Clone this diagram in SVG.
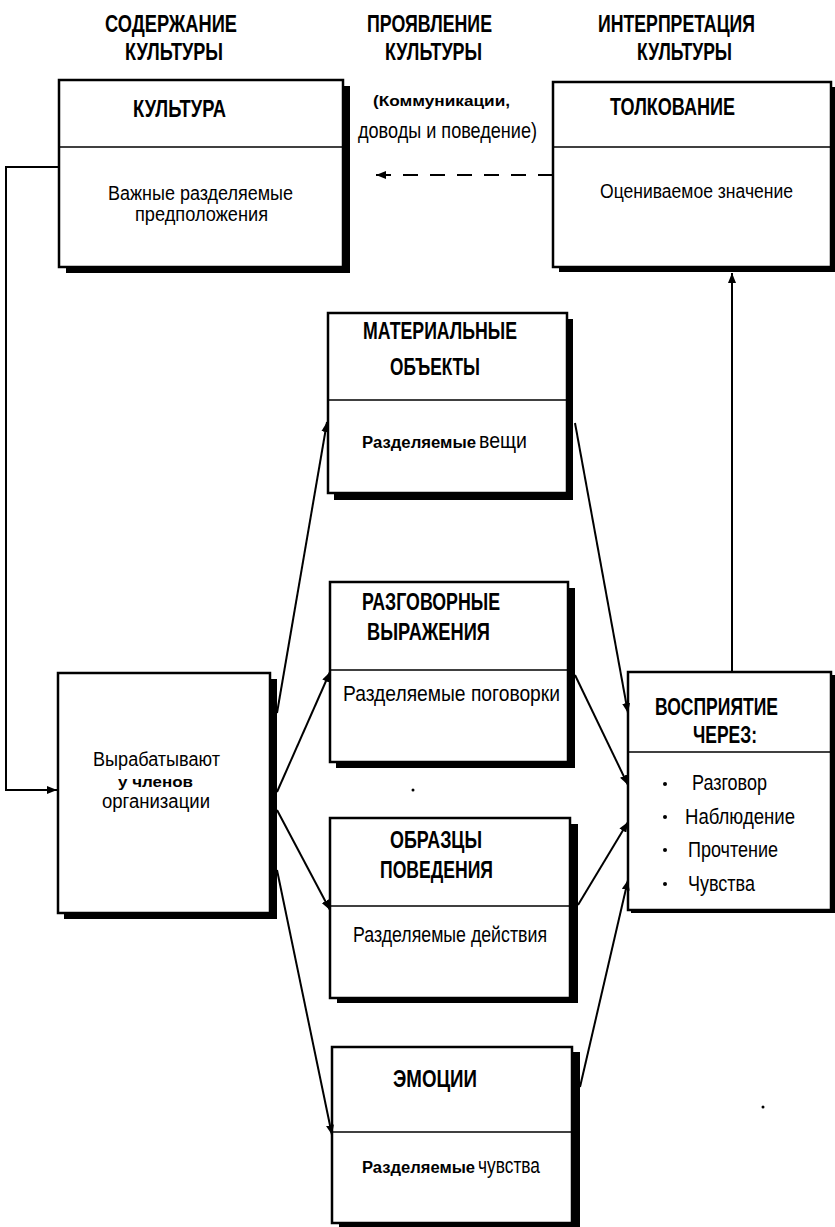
<svg xmlns="http://www.w3.org/2000/svg" width="835" height="1227" viewBox="0 0 835 1227">
<defs>
<style>
text{font-family:"Liberation Sans Narrow","Liberation Sans",Arial,sans-serif;fill:#000}
.h{font-size:23px;font-weight:bold}
.t{font-size:22px}
.s{font-size:20px}
.b{font-size:16px;font-weight:bold;font-family:"Liberation Sans",Arial,sans-serif}
.box{fill:#fff;stroke:#000;stroke-width:2.5}
.sh{fill:#000}
.div{stroke:#000;stroke-width:1.6}
.con{fill:none;stroke:#000;stroke-width:2}
.dash{fill:none;stroke:#000;stroke-width:2;stroke-dasharray:15 12}
</style>
<marker id="ah" viewBox="0 0 10 8" refX="10" refY="4" markerWidth="10" markerHeight="8" markerUnits="userSpaceOnUse" orient="auto">
<path d="M0,0 L10,4 L0,8 z" fill="#000"/>
</marker>
</defs>
<rect width="835" height="1227" fill="#fff"/>

<g id="headers">
<text class="h" x="105" y="32" textLength="132" lengthAdjust="spacingAndGlyphs">СОДЕРЖАНИЕ</text>
<text class="h" x="125" y="60" textLength="98" lengthAdjust="spacingAndGlyphs">КУЛЬТУРЫ</text>
<text class="h" x="367" y="32" textLength="125" lengthAdjust="spacingAndGlyphs">ПРОЯВЛЕНИЕ</text>
<text class="h" x="385" y="60" textLength="97" lengthAdjust="spacingAndGlyphs">КУЛЬТУРЫ</text>
<text class="h" x="598" y="32" textLength="157" lengthAdjust="spacingAndGlyphs">ИНТЕРПРЕТАЦИЯ</text>
<text class="h" x="637" y="60" textLength="95" lengthAdjust="spacingAndGlyphs">КУЛЬТУРЫ</text>
<text class="b" x="373" y="106" textLength="137" lengthAdjust="spacingAndGlyphs" style="font-size:14px">(Коммуникации,</text>
<text class="t" x="358" y="138" textLength="179" lengthAdjust="spacingAndGlyphs">доводы и поведение)</text>
</g>

<g id="culture">
<rect class="sh" x="66" y="86" width="284" height="187"/>
<rect class="box" x="59" y="80" width="284" height="187"/>
<line class="div" x1="59" y1="147" x2="343" y2="147"/>
<text class="h" x="133" y="117" textLength="93" lengthAdjust="spacingAndGlyphs">КУЛЬТУРА</text>
<text class="s" x="108" y="200" textLength="185" lengthAdjust="spacingAndGlyphs">Важные разделяемые</text>
<text class="s" x="135" y="221" textLength="133" lengthAdjust="spacingAndGlyphs">предположения</text>
</g>

<g id="interpretation">
<rect class="sh" x="559" y="87" width="276" height="185"/>
<rect class="box" x="553" y="82" width="278" height="185"/>
<line class="div" x1="553" y1="147" x2="831" y2="147"/>
<text class="h" x="610" y="115" textLength="125" lengthAdjust="spacingAndGlyphs">ТОЛКОВАНИЕ</text>
<text class="s" x="600" y="198" textLength="193" lengthAdjust="spacingAndGlyphs">Оцениваемое значение</text>
</g>

<g id="material">
<rect class="sh" x="334" y="319" width="239" height="181"/>
<rect class="box" x="328" y="313" width="239" height="180"/>
<line class="div" x1="328" y1="400" x2="567" y2="400"/>
<text class="h" x="363" y="339" textLength="154" lengthAdjust="spacingAndGlyphs">МАТЕРИАЛЬНЫЕ</text>
<text class="h" x="390" y="375" textLength="90" lengthAdjust="spacingAndGlyphs">ОБЪЕКТЫ</text>
<text class="b" x="362" y="448" textLength="114" lengthAdjust="spacingAndGlyphs">Разделяемые</text>
<text class="t" x="479" y="448" textLength="48" lengthAdjust="spacingAndGlyphs">вещи</text>
</g>

<g id="speech">
<rect class="sh" x="336" y="588" width="239" height="180"/>
<rect class="box" x="330" y="582" width="238" height="180"/>
<line class="div" x1="330" y1="670" x2="568" y2="670"/>
<text class="h" x="362" y="610" textLength="138" lengthAdjust="spacingAndGlyphs">РАЗГОВОРНЫЕ</text>
<text class="h" x="367" y="640" textLength="123" lengthAdjust="spacingAndGlyphs">ВЫРАЖЕНИЯ</text>
<text class="t" x="343" y="701" textLength="217" lengthAdjust="spacingAndGlyphs">Разделяемые поговорки</text>
</g>

<g id="behavior">
<rect class="sh" x="337" y="824" width="241" height="179"/>
<rect class="box" x="330" y="818" width="240" height="180"/>
<line class="div" x1="330" y1="906" x2="570" y2="906"/>
<text class="h" x="390" y="848" textLength="92" lengthAdjust="spacingAndGlyphs">ОБРАЗЦЫ</text>
<text class="h" x="380" y="878" textLength="113" lengthAdjust="spacingAndGlyphs">ПОВЕДЕНИЯ</text>
<text class="t" x="353" y="942" textLength="194" lengthAdjust="spacingAndGlyphs">Разделяемые действия</text>
</g>

<g id="emotions">
<rect class="sh" x="339" y="1052" width="241" height="180"/>
<rect class="box" x="332" y="1047" width="240" height="176"/>
<line class="div" x1="332" y1="1132" x2="572" y2="1132"/>
<text class="h" x="393" y="1087" textLength="84" lengthAdjust="spacingAndGlyphs">ЭМОЦИИ</text>
<text class="b" x="362" y="1173" textLength="113" lengthAdjust="spacingAndGlyphs">Разделяемые</text>
<text class="t" x="478" y="1173" textLength="62" lengthAdjust="spacingAndGlyphs">чувства</text>
</g>

<g id="members">
<rect class="sh" x="64" y="679" width="213" height="240"/>
<rect class="box" x="58" y="673" width="212" height="240"/>
<text class="s" x="93" y="766" textLength="127" lengthAdjust="spacingAndGlyphs">Вырабатывают</text>
<text class="b" x="118" y="787" textLength="75" lengthAdjust="spacingAndGlyphs" style="font-size:15px">у членов</text>
<text class="s" x="102" y="808" textLength="108" lengthAdjust="spacingAndGlyphs">организации</text>
</g>

<g id="perception">
<rect class="sh" x="631" y="675" width="204" height="238"/>
<rect class="box" x="628" y="672" width="203" height="238"/>
<line class="div" x1="628" y1="752" x2="831" y2="752"/>
<text class="h" x="655" y="715" textLength="123" lengthAdjust="spacingAndGlyphs">ВОСПРИЯТИЕ</text>
<text class="h" x="693" y="743" textLength="64" lengthAdjust="spacingAndGlyphs">ЧЕРЕЗ:</text>
<circle cx="665" cy="784" r="2"/>
<circle cx="665" cy="817" r="2"/>
<circle cx="665" cy="850" r="2"/>
<circle cx="665" cy="884" r="2"/>
<text class="t" x="692" y="790" textLength="75" lengthAdjust="spacingAndGlyphs">Разговор</text>
<text class="t" x="685" y="824" textLength="110" lengthAdjust="spacingAndGlyphs">Наблюдение</text>
<text class="t" x="688" y="857" textLength="90" lengthAdjust="spacingAndGlyphs">Прочтение</text>
<text class="t" x="688" y="891" textLength="67" lengthAdjust="spacingAndGlyphs">Чувства</text>
</g>

<g id="connectors">
<polyline class="con" points="59,167 6,167 6,790 57,790" marker-end="url(#ah)"/>
<line class="dash" x1="553" y1="175" x2="376" y2="175" marker-end="url(#ah)"/>
<line class="con" x1="732" y1="672" x2="732" y2="273" marker-end="url(#ah)"/>
<line class="con" x1="277" y1="713" x2="327" y2="422" marker-end="url(#ah)"/>
<line class="con" x1="277" y1="792" x2="330" y2="672" marker-end="url(#ah)"/>
<line class="con" x1="277" y1="810" x2="330" y2="910" marker-end="url(#ah)"/>
<line class="con" x1="277" y1="870" x2="332" y2="1135" marker-end="url(#ah)"/>
<line class="con" x1="575" y1="423" x2="628" y2="713" marker-end="url(#ah)"/>
<line class="con" x1="575" y1="675" x2="628" y2="785" marker-end="url(#ah)"/>
<line class="con" x1="578" y1="905" x2="628" y2="822" marker-end="url(#ah)"/>
<line class="con" x1="580" y1="1087" x2="628" y2="880" marker-end="url(#ah)"/>
</g>

<g id="specks">
<circle cx="413" cy="790" r="1.5"/>
<circle cx="763" cy="1107" r="1.5"/>
</g>
</svg>
